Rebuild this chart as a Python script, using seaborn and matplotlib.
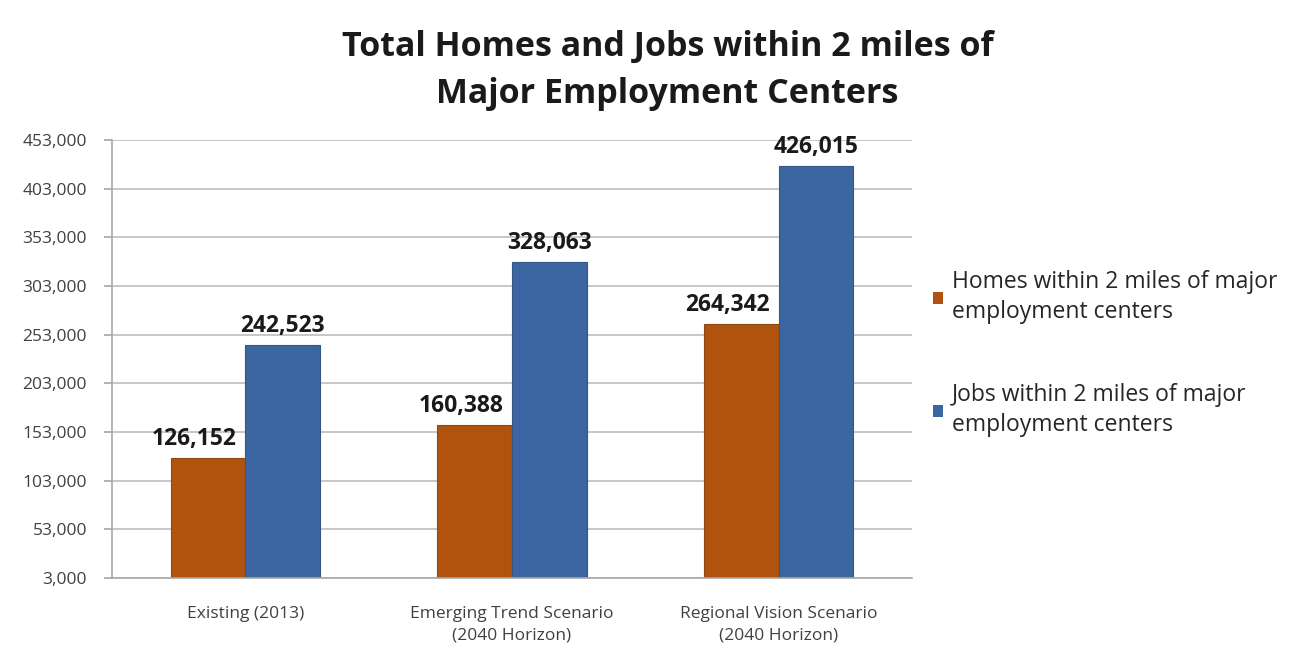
import matplotlib
matplotlib.use("Agg")
import matplotlib.pyplot as plt
import seaborn as sns
import pandas as pd
from matplotlib.ticker import FuncFormatter

categories = ["Existing (2013)",
              "Emerging Trend Scenario\n(2040 Horizon)",
              "Regional Vision Scenario\n(2040 Horizon)"]
series_names = ["Homes within 2 miles of major\nemployment centers",
                "Jobs within 2 miles of major\nemployment centers"]
homes = [126152, 160388, 264342]
jobs = [242523, 328063, 426015]
colors = ["#B0530F", "#3B66A1"]

df = pd.DataFrame({
    "category": categories * 2,
    "series": [series_names[0]] * 3 + [series_names[1]] * 3,
    "value": homes + jobs,
})

sns.set_theme(style="white")
plt.rcParams["font.family"] = ["Open Sans", "DejaVu Sans"]

fig = plt.figure(figsize=(12.99, 6.58), dpi=100)
ax = fig.add_axes([0.0862, 0.1216, 0.6158, 0.6654])

sns.barplot(data=df, x="category", y="value", hue="series",
            palette=colors, width=0.56, saturation=1, ax=ax,
            edgecolor="none", legend=True)

# darker outline on each bar and a bold value label above it
label_shift = [-10, 0]
for cont, col, dx in zip(ax.containers, colors, label_shift):
    for bar in cont:
        bar.set_edgecolor(sns.dark_palette(col, n_colors=5)[3])
        bar.set_linewidth(0.8)
        h = bar.get_height()
        ax.annotate(f"{int(h):,}", (bar.get_x() + bar.get_width() / 2, h),
                    xytext=(dx, 5), textcoords="offset points",
                    ha="center", va="bottom", fontsize=16.5,
                    fontweight="bold", color="#1a1a1a")

ax.set_ylim(3000, 453000)
ax.set_yticks([3000 + 50000 * i for i in range(10)])
ax.yaxis.set_major_formatter(FuncFormatter(lambda v, p: f"{int(v):,}"))
ax.grid(axis="y", color="#BDBDBD", linewidth=1.2)
ax.set_axisbelow(True)
for s in ["top", "right"]:
    ax.spines[s].set_visible(False)
for s in ["left", "bottom"]:
    ax.spines[s].set_color("#A8A8A8")
    ax.spines[s].set_linewidth(1.2)
ax.tick_params(axis="y", left=True, length=6, color="#A8A8A8",
               labelsize=12.5, labelcolor="#404040", pad=12)
ax.tick_params(axis="x", bottom=False, labelsize=12.5, labelcolor="#404040", pad=14)
for t in ax.get_xticklabels():
    t.set_linespacing(1.5)
ax.set_xlabel("")
ax.set_ylabel("")

handles, labels = ax.get_legend_handles_labels()
ax.get_legend().remove()
leg = fig.legend(handles, labels, loc="upper left", bbox_to_anchor=(0.702, 0.621),
                 frameon=False, fontsize=16.5, handlelength=0.45, handleheight=0.45,
                 handletextpad=0.4, labelspacing=2.55, labelcolor="#262626")
for t in leg.get_texts():
    t.set_linespacing(1.35)

fig.suptitle("Total Homes and Jobs within 2 miles of\nMajor Employment Centers",
             x=0.514, y=0.955, fontsize=24.5, fontweight="bold", color="#1a1a1a",
             linespacing=1.5)

fig.savefig("out.png", dpi=100, facecolor="white")
